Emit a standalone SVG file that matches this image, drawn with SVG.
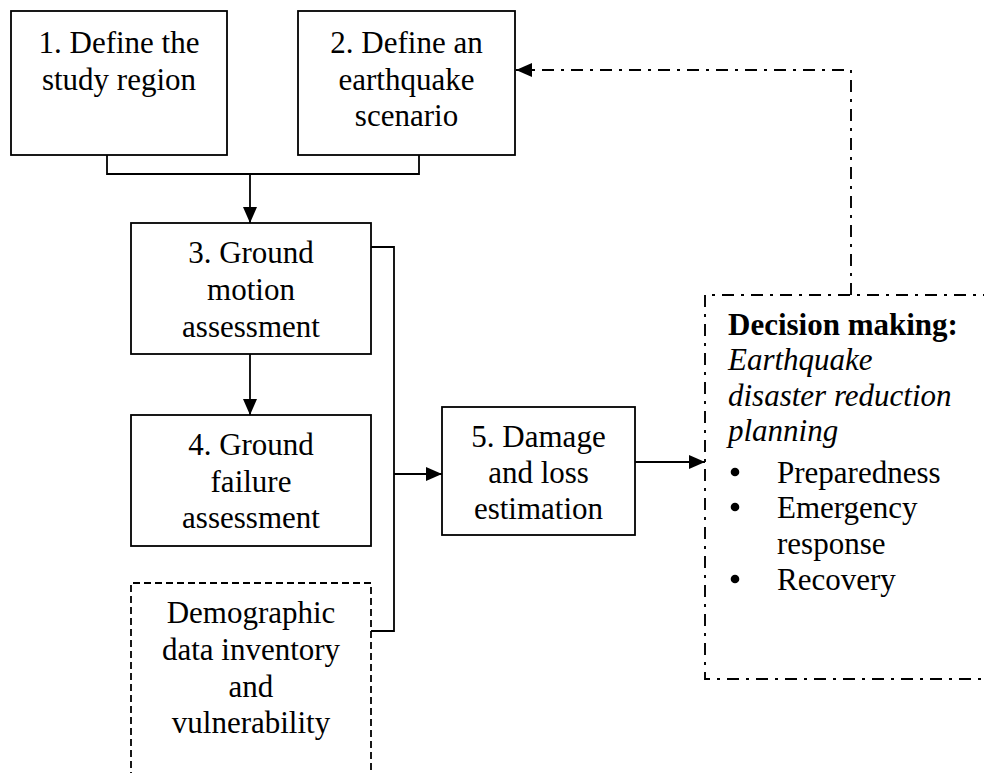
<svg xmlns="http://www.w3.org/2000/svg" width="984" height="773" viewBox="0 0 984 773">
  <defs>
    <marker id="arr" markerUnits="userSpaceOnUse" markerWidth="17" markerHeight="15" refX="16" refY="7" orient="auto">
      <path d="M0,0 L16,7 L0,14 z" fill="#000"/>
    </marker>
    <style>
      text { font-family: "Liberation Serif", "Times New Roman", serif; font-size: 31px; fill: #000; }
      .c { text-anchor: middle; }
      .box { fill: #fff; stroke: #000; stroke-width: 1.8; }
      .dash { fill: none; stroke: #000; stroke-width: 1.8; stroke-dasharray: 7 4; }
      .dd { fill: none; stroke: #000; stroke-width: 1.9; stroke-dasharray: 12 7 3 7; }
      .ln { fill: none; stroke: #000; stroke-width: 1.8; }
      .b { font-weight: bold; }
      .i { font-style: italic; }
    </style>
  </defs>
  <rect width="984" height="773" fill="#fff"/>

  <g id="connectors">
    <path class="ln" d="M107,155 V174 H419 V155"/>
    <path class="ln" d="M250,174 V223" marker-end="url(#arr)"/>
    <path class="ln" d="M250,354 V415" marker-end="url(#arr)"/>
    <path class="ln" d="M371,247 H394 V631 H371"/>
    <path class="ln" d="M394,474 H442" marker-end="url(#arr)"/>
    <path class="ln" d="M635,462 H705" marker-end="url(#arr)"/>
    <path class="dd" d="M851,295 V70 H516" marker-end="url(#arr)"/>
  </g>

  <g id="node1">
    <rect class="box" x="11" y="11" width="216" height="144"/>
    <text class="c" x="119" y="53">1. Define the</text>
    <text class="c" x="119" y="90">study region</text>
  </g>

  <g id="node2">
    <rect class="box" x="298" y="11" width="217" height="144"/>
    <text class="c" x="406.5" y="53">2. Define an</text>
    <text class="c" x="406.5" y="90">earthquake</text>
    <text class="c" x="406.5" y="126">scenario</text>
  </g>

  <g id="node3">
    <rect class="box" x="131" y="223" width="240" height="131"/>
    <text class="c" x="251" y="263">3. Ground</text>
    <text class="c" x="251" y="300">motion</text>
    <text class="c" x="251" y="337">assessment</text>
  </g>

  <g id="node4">
    <rect class="box" x="131" y="415" width="240" height="131"/>
    <text class="c" x="251" y="455">4. Ground</text>
    <text class="c" x="251" y="492">failure</text>
    <text class="c" x="251" y="528">assessment</text>
  </g>

  <g id="node-demographic">
    <path class="dash" d="M131,790 V583 H371 V790"/>
    <text class="c" x="251" y="623">Demographic</text>
    <text class="c" x="251" y="660">data inventory</text>
    <text class="c" x="251" y="697">and</text>
    <text class="c" x="251" y="733">vulnerability</text>
  </g>

  <g id="node5">
    <rect class="box" x="442" y="407" width="193" height="128"/>
    <text class="c" x="538.5" y="447">5. Damage</text>
    <text class="c" x="538.5" y="483">and loss</text>
    <text class="c" x="538.5" y="519">estimation</text>
  </g>

  <g id="node-decision">
    <path class="dd" d="M995,295 H705 V679 H995"/>
    <text class="b" x="728" y="335">Decision making:</text>
    <text class="i" x="728" y="370">Earthquake</text>
    <text class="i" x="728" y="406">disaster reduction</text>
    <text class="i" x="728" y="441">planning</text>
    <circle cx="735" cy="472" r="4.3" fill="#000"/>
    <text x="777" y="483">Preparedness</text>
    <circle cx="735" cy="507" r="4.3" fill="#000"/>
    <text x="777" y="518">Emergency</text>
    <text x="777" y="554">response</text>
    <circle cx="735" cy="579" r="4.3" fill="#000"/>
    <text x="777" y="590">Recovery</text>
  </g>
</svg>
